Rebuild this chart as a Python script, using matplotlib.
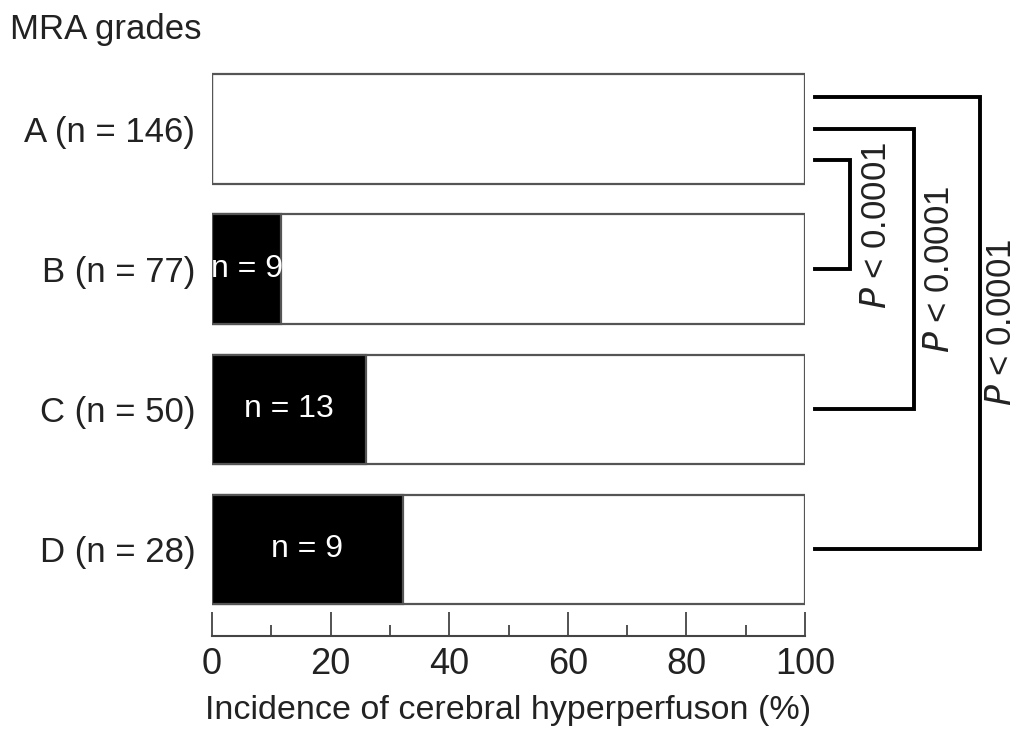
import matplotlib.pyplot as plt
from matplotlib.ticker import MultipleLocator

grades = ["A (n = 146)", "B (n = 77)", "C (n = 50)", "D (n = 28)"]
totals = [146, 77, 50, 28]
events = [0, 9, 13, 9]
pct = [e / t * 100 for e, t in zip(events, totals)]

# comparisons against grade A: (upper end on A, lower grade index, label)
brackets = [(0.22, 1, "P < 0.0001"), (0.0, 2, "P < 0.0001"), (-0.23, 3, "P < 0.0001")]
bracket_x = [107.6, 118.4, 129.5]
label_pos = [(112.0, 0.69), (122.6, 1.0), (133.2, 1.38)]

plt.rcParams['font.family'] = ['Liberation Sans', 'DejaVu Sans']
txt = '#222222'

fig = plt.figure(figsize=(10.19, 7.31), dpi=100)
ax = fig.add_axes([212/1019, 1-636/731, 593/1019, 570/731])

ypos = list(range(len(grades)))
ax.barh(ypos, [100]*len(ypos), height=0.78, color='white', edgecolor='#555555', linewidth=1.6)
ax.barh(ypos, pct, height=0.78, color='black', edgecolor='#555555', linewidth=1.6)
for y, p, e in zip(ypos, pct, events):
    if e > 0:
        ax.text(p/2, y, "n = %d" % e, color='white', ha='center', va='center', fontsize=23)

for (top, low, lab), bx, (tx, ty) in zip(brackets, bracket_x, label_pos):
    ax.plot([101.7, bx, bx, 101.7], [top, top, low, low], color='black', lw=2.8,
            clip_on=False, solid_joinstyle='miter')
    ax.text(tx, ty, "$P$ < 0.0001", rotation=90, ha='center', va='center',
            fontsize=25, color=txt, clip_on=False)

ax.set_xlim(0, 100)
ax.set_ylim(3.62, -0.45)
ax.set_yticks(ypos)
ax.set_yticklabels(grades, fontsize=25, color=txt)
ax.tick_params(axis='y', length=0, pad=12)
ax.xaxis.set_major_locator(MultipleLocator(20))
ax.xaxis.set_minor_locator(MultipleLocator(10))
ax.tick_params(axis='x', which='major', direction='in', length=17, width=1.3,
               labelsize=26, labelcolor=txt, pad=8, color='#444444')
ax.tick_params(axis='x', which='minor', direction='in', length=8, width=1.3, color='#444444')
for s in ['top', 'right', 'left']:
    ax.spines[s].set_visible(False)
ax.spines['bottom'].set_linewidth(1.5)
ax.spines['bottom'].set_color('#444444')
ax.set_xlabel("Incidence of cerebral hyperperfuson (%)", fontsize=24.5, color=txt, labelpad=9)

fig.text(10/1019, 1-30/731, "MRA grades", fontsize=25, color=txt, va='center', ha='left')

fig.savefig("out.png", dpi=100)
